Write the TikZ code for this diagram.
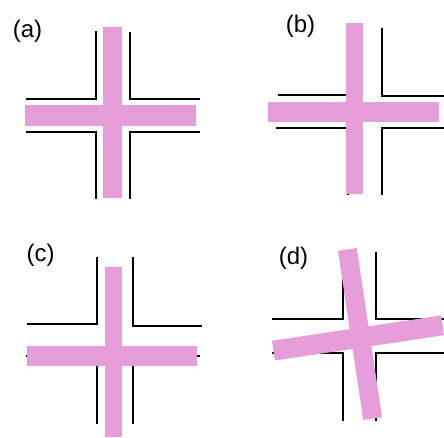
\documentclass[tikz,border=0pt]{standalone}
\usepackage{fontspec}
\newfontfamily\lblfont{Liberation Sans}
\definecolor{barpink}{RGB}{229,158,217}
\tikzset{
  wall/.style={line width=1.1pt, black},
  bar/.style={fill=barpink},
  lbl/.style={font=\lblfont\fontsize{24}{24}\selectfont, inner sep=0pt}
}
\begin{document}
\begin{tikzpicture}[x=1pt, y=1pt]
    \useasboundingbox (0,0) rectangle (444,438);
    % (a) centred cross
    \node[lbl] (la) at (27.5, 407) {(a)};
    \draw[wall] (26,339) -- (96,339) -- (96,407);
    \draw[wall] (130,406) -- (130,339) -- (200,339);
    \draw[wall] (26,306) -- (96,306) -- (96,239);
    \draw[wall] (200,306) -- (130,306) -- (130,239);
    \fill[bar] (103,240) rectangle (122,411);
    \fill[bar] (25,312) rectangle (196,333);
    % (b) vertical bar against left wall
    \node[lbl] (lb) at (300.5, 411.5) {(b)};
    \draw[wall] (278,343) -- (348,343) -- (348,410);
    \draw[wall] (382,410) -- (382,342) -- (444,342);
    \draw[wall] (276,310) -- (348,310) -- (348,243);
    \draw[wall] (444,310) -- (382,310) -- (382,243);
    \fill[bar] (346,244) rectangle (363,415);
    \fill[bar] (268,316) rectangle (439,336);
    % (c) horizontal bar against lower wall
    \node[lbl] (lc) at (40.5, 183) {(c)};
    \draw[wall] (27,114) -- (97,114) -- (97,181);
    \draw[wall] (133,181) -- (133,112) -- (202,112);
    \draw[wall] (26,82) -- (97,82) -- (97,14);
    \draw[wall] (200,82) -- (133,82) -- (133,14);
    \fill[bar] (105,1) rectangle (122,171);
    \fill[bar] (27,72) rectangle (197,92);
    % (d) rotated cross
    \node[lbl] (ld) at (293.5, 180) {(d)};
    \draw[wall] (272,119) -- (343,119) -- (343,186);
    \draw[wall] (376,186) -- (376,119) -- (444,119);
    \draw[wall] (272,85) -- (343,85) -- (343,17);
    \draw[wall] (444,85) -- (376,85) -- (376,17);
    \fill[bar, shift={(360,104)}, rotate=8.5] (-9.5,-85.5) rectangle (9.5,85.5);
    \fill[bar, shift={(358,100)}, rotate=8.5] (-85.5,-10) rectangle (85.5,10);
\end{tikzpicture}
\end{document}
